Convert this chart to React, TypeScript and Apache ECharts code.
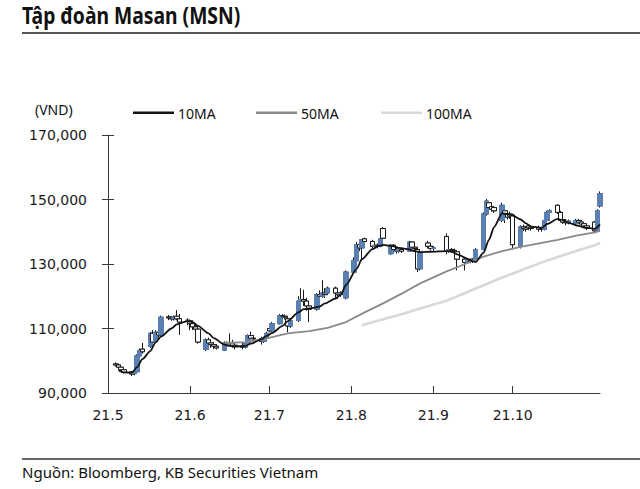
import React, { useEffect, useRef } from 'react';
import * as echarts from 'echarts';

// ---- Data (prices in thousand VND) ----
const TITLE = 'Tập đoàn Masan (MSN)';
const SOURCE = 'Nguồn: Bloomberg, KB Securities Vietnam';
const UNIT = '(VND)';
const Y_MIN = 90;
const Y_MAX = 170;
const Y_STEP = 20;
const LABEL_MONTHS = ['05', '06', '07', '08', '09', '10'];

// [date MM-DD, open, close, low, high]
const CANDLES: [string, number, number, number, number][] = [
  ['05-04', 99.0, 98.7, 98.2, 99.5],
  ['05-05', 98.7, 98.0, 97.6, 99.0],
  ['05-06', 98.0, 97.2, 96.8, 98.3],
  ['05-07', 97.2, 96.4, 96.0, 97.6],
  ['05-10', 96.5, 95.9, 95.3, 96.8],
  ['05-11', 96.0, 96.4, 95.5, 96.9],
  ['05-12', 96.6, 101.5, 96.3, 102.0],
  ['05-13', 101.5, 103.2, 101.0, 103.8],
  ['05-14', 103.6, 102.8, 102.2, 105.5],
  ['05-17', 104.5, 108.5, 104.0, 109.0],
  ['05-18', 108.5, 105.8, 105.3, 109.5],
  ['05-19', 106.0, 108.8, 105.5, 109.5],
  ['05-20', 108.8, 108.0, 107.2, 109.6],
  ['05-21', 108.0, 113.5, 107.6, 114.0],
  ['05-24', 113.6, 113.3, 112.6, 114.2],
  ['05-25', 113.3, 113.0, 112.4, 113.9],
  ['05-26', 113.0, 113.5, 112.5, 114.0],
  ['05-27', 113.8, 113.0, 112.5, 115.7],
  ['05-28', 113.0, 112.0, 108.0, 114.5],
  ['05-31', 112.2, 112.6, 111.0, 113.2],
  ['06-01', 112.4, 111.5, 109.5, 112.8],
  ['06-02', 111.5, 110.5, 109.5, 112.0],
  ['06-03', 110.5, 109.8, 109.0, 111.2],
  ['06-04', 109.8, 105.8, 105.3, 110.2],
  ['06-07', 103.5, 106.5, 103.0, 107.0],
  ['06-08', 106.5, 105.5, 104.8, 107.2],
  ['06-09', 105.5, 105.0, 104.0, 106.2],
  ['06-10', 105.0, 104.5, 103.6, 105.8],
  ['06-11', 104.5, 104.0, 103.5, 105.2],
  ['06-14', 103.3, 105.5, 103.0, 106.0],
  ['06-15', 105.5, 105.0, 104.3, 106.0],
  ['06-16', 105.0, 105.5, 104.5, 108.5],
  ['06-17', 105.5, 104.8, 104.0, 106.5],
  ['06-18', 104.8, 104.5, 103.5, 105.8],
  ['06-21', 104.5, 104.2, 103.5, 105.5],
  ['06-22', 104.2, 105.5, 103.8, 106.0],
  ['06-23', 105.5, 107.8, 105.2, 108.2],
  ['06-24', 107.8, 107.0, 106.5, 109.0],
  ['06-25', 107.0, 106.8, 106.0, 108.0],
  ['06-28', 106.8, 106.0, 105.0, 107.5],
  ['06-29', 106.0, 107.0, 105.5, 107.5],
  ['06-30', 107.0, 108.5, 106.8, 109.0],
  ['07-01', 110.0, 109.3, 108.8, 110.5],
  ['07-02', 109.3, 111.5, 109.0, 112.0],
  ['07-05', 111.5, 114.0, 111.2, 114.5],
  ['07-06', 114.0, 113.8, 113.0, 114.5],
  ['07-07', 113.8, 113.5, 112.8, 114.4],
  ['07-08', 113.0, 110.8, 108.8, 113.5],
  ['07-09', 110.8, 112.5, 110.2, 113.0],
  ['07-12', 112.5, 118.5, 112.0, 120.0],
  ['07-13', 118.5, 119.0, 117.5, 122.5],
  ['07-14', 119.0, 118.5, 117.0, 122.0],
  ['07-15', 118.5, 117.0, 115.5, 119.5],
  ['07-16', 117.0, 116.0, 112.0, 117.5],
  ['07-19', 116.0, 120.5, 115.5, 121.0],
  ['07-20', 120.5, 120.0, 119.2, 121.8],
  ['07-21', 120.0, 121.0, 119.5, 125.0],
  ['07-22', 121.0, 120.5, 119.5, 122.5],
  ['07-23', 121.0, 122.5, 120.5, 123.0],
  ['07-26', 122.5, 121.0, 119.5, 123.0],
  ['07-27', 121.0, 120.5, 119.2, 121.5],
  ['07-28', 120.5, 121.0, 119.8, 121.6],
  ['07-29', 121.0, 120.8, 120.0, 121.8],
  ['07-30', 119.5, 127.5, 119.0, 128.0],
  ['08-02', 127.5, 131.0, 127.0, 132.0],
  ['08-03', 131.0, 136.0, 130.5, 136.8],
  ['08-04', 136.0, 135.0, 134.0, 137.5],
  ['08-05', 135.0, 137.5, 131.0, 137.8],
  ['08-06', 137.8, 137.0, 136.0, 138.2],
  ['08-09', 137.0, 135.5, 134.8, 137.5],
  ['08-10', 135.5, 135.8, 134.9, 136.5],
  ['08-11', 135.8, 135.5, 134.8, 136.4],
  ['08-12', 135.5, 137.8, 135.2, 138.5],
  ['08-13', 141.0, 138.0, 137.5, 141.5],
  ['08-16', 133.2, 135.8, 132.8, 136.2],
  ['08-17', 135.8, 134.5, 134.0, 136.2],
  ['08-18', 134.5, 134.0, 133.2, 135.0],
  ['08-19', 134.0, 134.5, 133.5, 135.2],
  ['08-20', 134.5, 134.0, 133.4, 135.0],
  ['08-23', 134.0, 136.8, 133.8, 137.2],
  ['08-24', 136.8, 135.2, 134.8, 137.0],
  ['08-25', 135.2, 134.8, 134.0, 135.8],
  ['08-26', 134.5, 128.5, 127.5, 135.0],
  ['08-27', 128.5, 133.5, 128.0, 134.0],
  ['08-30', 136.5, 135.5, 134.8, 137.2],
  ['08-31', 135.5, 134.8, 134.2, 136.0],
  ['09-01', 134.8, 135.0, 134.2, 135.6],
  ['09-06', 138.5, 134.0, 133.0, 139.5],
  ['09-07', 134.0, 134.5, 133.5, 135.0],
  ['09-08', 134.5, 134.2, 133.6, 135.0],
  ['09-09', 134.2, 133.8, 133.2, 134.8],
  ['09-10', 133.8, 131.5, 128.0, 134.0],
  ['09-13', 131.5, 130.5, 128.0, 132.0],
  ['09-14', 130.5, 131.2, 130.0, 131.8],
  ['09-15', 131.2, 130.8, 130.2, 131.6],
  ['09-16', 131.5, 131.0, 130.3, 131.8],
  ['09-17', 131.0, 134.5, 130.8, 135.0],
  ['09-20', 134.5, 145.5, 134.2, 146.0],
  ['09-21', 145.5, 149.5, 145.0, 150.2],
  ['09-22', 149.0, 147.5, 146.8, 149.5],
  ['09-23', 147.8, 147.0, 146.2, 148.3],
  ['09-24', 147.5, 146.5, 145.8, 148.0],
  ['09-27', 143.5, 148.2, 143.0, 149.0],
  ['09-28', 146.5, 145.5, 142.7, 147.0],
  ['09-29', 145.5, 144.5, 143.8, 146.0],
  ['09-30', 145.5, 144.8, 144.0, 146.2],
  ['10-01', 145.2, 136.0, 134.5, 145.5],
  ['10-04', 135.5, 141.5, 134.8, 142.0],
  ['10-05', 141.5, 141.0, 140.2, 142.2],
  ['10-06', 141.2, 140.8, 140.0, 141.8],
  ['10-07', 141.8, 141.2, 140.5, 142.3],
  ['10-08', 141.4, 141.0, 140.3, 142.0],
  ['10-11', 141.3, 140.8, 140.0, 141.9],
  ['10-12', 141.0, 140.7, 140.0, 141.6],
  ['10-13', 140.7, 143.5, 140.4, 144.0],
  ['10-14', 143.5, 146.0, 143.0, 146.5],
  ['10-15', 146.0, 146.5, 145.5, 147.0],
  ['10-18', 148.2, 146.0, 145.5, 148.5],
  ['10-19', 146.0, 143.5, 143.0, 146.5],
  ['10-20', 143.8, 143.0, 142.4, 144.4],
  ['10-21', 143.2, 142.8, 142.0, 143.8],
  ['10-22', 142.8, 143.3, 142.3, 143.8],
  ['10-25', 142.5, 143.5, 142.0, 144.0],
  ['10-26', 143.5, 143.0, 142.4, 144.0],
  ['10-27', 143.0, 142.4, 141.8, 143.5],
  ['10-28', 142.5, 141.8, 141.2, 143.0],
  ['10-29', 141.8, 141.2, 140.5, 142.3],
  ['11-01', 143.0, 140.3, 139.5, 143.3],
  ['11-02', 140.5, 146.5, 140.0, 147.0],
  ['11-03', 148.0, 151.8, 147.5, 152.5],
];

const MA10: [string, number][] = [
  ['05-05', 97.0], ['05-07', 96.4], ['05-10', 96.3], ['05-12', 98.0], ['05-14', 100.5],
  ['05-17', 103.0], ['05-19', 105.7], ['05-21', 107.5], ['05-25', 110.0], ['05-27', 111.3],
  ['05-31', 112.3], ['06-02', 112.0], ['06-04', 110.8], ['06-08', 108.5], ['06-10', 107.0],
  ['06-14', 105.0], ['06-16', 104.6], ['06-18', 104.4], ['06-22', 104.6], ['06-24', 105.3],
  ['06-28', 106.6], ['06-30', 107.7], ['07-02', 108.6], ['07-06', 110.8], ['07-08', 112.3],
  ['07-12', 115.0], ['07-14', 116.0], ['07-16', 116.2], ['07-20', 116.8], ['07-22', 117.8],
  ['07-26', 119.3], ['07-28', 120.5], ['07-30', 123.5], ['08-03', 128.5], ['08-05', 131.5],
  ['08-09', 134.6], ['08-11', 135.5], ['08-13', 135.9], ['08-17', 135.5], ['08-19', 135.0],
  ['08-23', 134.5], ['08-25', 134.0], ['08-27', 133.7], ['08-31', 133.8], ['09-06', 134.0],
  ['09-08', 133.8], ['09-10', 133.0], ['09-14', 131.6], ['09-16', 130.8], ['09-17', 130.6],
  ['09-20', 133.5], ['09-22', 137.5], ['09-24', 141.5], ['09-27', 145.8], ['09-29', 145.5],
  ['10-01', 145.0], ['10-04', 143.8], ['10-06', 142.6], ['10-08', 141.6], ['10-12', 141.2],
  ['10-14', 142.4], ['10-18', 144.0], ['10-20', 143.6], ['10-22', 142.8], ['10-26', 141.8],
  ['10-28', 141.3], ['11-01', 140.9], ['11-03', 142.3],
];

const MA50: [string, number][] = [
  ['06-14', 105.5], ['06-22', 105.8], ['06-30', 106.9], ['07-08', 108.5], ['07-16', 109.2],
  ['07-23', 110.2], ['07-30', 112.0], ['08-06', 115.0], ['08-13', 117.8], ['08-20', 120.8],
  ['08-27', 124.0], ['09-06', 127.7], ['09-13', 130.0], ['09-20', 132.3], ['09-27', 134.0],
  ['10-04', 135.3], ['10-11', 136.4], ['10-18', 137.5], ['10-25', 138.8], ['11-01', 139.8],
  ['11-03', 140.3],
];

const MA100: [string, number][] = [
  ['08-05', 111.0], ['08-13', 112.9], ['08-20', 114.4], ['08-27', 116.2], ['09-06', 118.6],
  ['09-13', 121.0], ['09-20', 123.4], ['09-27', 125.8], ['10-04', 128.0], ['10-11', 130.2],
  ['10-18', 132.2], ['10-25', 134.0], ['11-01', 135.8], ['11-03', 136.5],
];

const LEGEND_NAMES = ['10MA', '50MA', '100MA'];
const BLUE = '#5a7fb3';
const MA_COLORS = ['#141414', '#8a8a8a', '#d8d8d8'];

// calendar categories (every day, so spacing follows calendar time)
function buildCalendar(): string[] {
  const out: string[] = [];
  const start = Date.UTC(2021, 4, 1);
  const end = Date.UTC(2021, 10, 3);
  for (let t = start; t <= end; t += 86400000) {
    const d = new Date(t);
    const mm = String(d.getUTCMonth() + 1).padStart(2, '0');
    const dd = String(d.getUTCDate()).padStart(2, '0');
    out.push(`${mm}-${dd}`);
  }
  return out;
}

export default function App() {
  const ref = useRef<HTMLDivElement>(null);

  useEffect(() => {
    if (!ref.current) return;
    const chart = echarts.init(ref.current, undefined, { renderer: 'svg' });
    const cats = buildCalendar();
    const byDate = new Map(CANDLES.map((r) => [r[0], r]));
    const full = cats.map((c) => {
      const r = byDate.get(c);
      return r ? [r[1], r[2], r[3], r[4]] : ['-', '-', '-', '-'];
    });
    const body = cats.map((c) => {
      const r = byDate.get(c);
      return r ? [r[1], r[2], Math.min(r[1], r[2]), Math.max(r[1], r[2])] : ['-', '-', '-', '-'];
    });
    const isMonthStart = (_i: number, v: string) =>
      v.endsWith('-01') && LABEL_MONTHS.includes(v.slice(0, 2));
    const font = 'DejaVu Sans';
    const tf = 'Noto Sans';

    const legendEls: any[] = [];
    const legendX = [133, 256, 381];
    LEGEND_NAMES.forEach((n, i) => {
      legendEls.push({
        type: 'line',
        shape: { x1: legendX[i], y1: 112.7, x2: legendX[i] + 41, y2: 112.7 },
        style: { stroke: MA_COLORS[i], lineWidth: 2.6 },
      });
      legendEls.push({
        type: 'text',
        x: legendX[i] + 45,
        y: 113,
        style: { text: n, fontFamily: tf, fontSize: 14, fill: '#111', verticalAlign: 'middle', align: 'left' },
      });
    });

    const lineBase = { type: 'line', symbol: 'none', silent: true };

    chart.setOption({
      animation: false,
      backgroundColor: '#ffffff',
      grid: { left: 108, right: 40, top: 135, bottom: 96, containLabel: false },
      xAxis: {
        type: 'category',
        data: cats,
        boundaryGap: false,
        axisLine: { lineStyle: { color: '#3a3a3a', width: 1 } },
        axisTick: { show: true, inside: true, length: 7, interval: isMonthStart, lineStyle: { color: '#3a3a3a' } },
        axisLabel: {
          interval: isMonthStart,
          margin: 15,
          fontFamily: font,
          fontSize: 14,
          color: '#1a1a1a',
          formatter: (v: string) => `21.${Number(v.slice(0, 2))}`,
        },
        splitLine: { show: false },
      },
      yAxis: [
        {
          type: 'value',
          min: Y_MIN,
          max: Y_MAX,
          interval: Y_STEP,
          axisLine: { show: true, lineStyle: { color: '#3a3a3a', width: 1 } },
          axisTick: { show: true, length: 6, lineStyle: { color: '#3a3a3a' } },
          axisLabel: {
            margin: 21,
            fontFamily: font,
            fontSize: 14,
            color: '#1a1a1a',
            formatter: (v: number) => (v * 1000).toLocaleString('en-US'),
          },
          splitLine: { show: false },
        },
        {
          type: 'value',
          position: 'left',
          min: Y_MIN,
          max: Y_MAX,
          interval: Y_STEP,
          axisLine: { show: false },
          axisTick: { show: true, inside: true, length: 6, lineStyle: { color: '#3a3a3a' } },
          axisLabel: { show: false },
          splitLine: { show: false },
        },
      ],
      series: [
        {
          name: 'wick',
          type: 'candlestick',
          data: full,
          barWidth: 5,
          silent: true,
          z: 2,
          itemStyle: { color: '#ffffff', color0: '#ffffff', borderColor: '#1a1a1a', borderColor0: '#1a1a1a', borderWidth: 1 },
        },
        {
          name: 'body',
          type: 'candlestick',
          data: body,
          barWidth: 5,
          silent: true,
          z: 3,
          itemStyle: { color: BLUE, color0: '#ffffff', borderColor: BLUE, borderColor0: '#1a1a1a', borderWidth: 1 },
        },
        { ...lineBase, name: LEGEND_NAMES[2], data: MA100, smooth: false, z: 4, lineStyle: { color: MA_COLORS[2], width: 2.6 } },
        { ...lineBase, name: LEGEND_NAMES[1], data: MA50, smooth: false, z: 5, lineStyle: { color: MA_COLORS[1], width: 1.8 } },
        { ...lineBase, name: LEGEND_NAMES[0], data: MA10, smooth: 0.25, smoothMonotone: 'x', z: 6, lineStyle: { color: MA_COLORS[0], width: 1.8 } },
      ],
      graphic: [
        {
          type: 'text',
          x: 22,
          y: 15,
          scaleX: 0.84,
          style: { text: TITLE, fontFamily: tf, fontSize: 23, fontWeight: 'bold', fill: '#111', verticalAlign: 'middle', align: 'left' },
        },
        { type: 'line', shape: { x1: 22, y1: 33, x2: 640, y2: 33 }, style: { stroke: '#555', lineWidth: 2 } },
        {
          type: 'text',
          x: 35,
          y: 109.5,
          style: { text: UNIT, fontFamily: tf, fontSize: 14, fill: '#111', verticalAlign: 'middle', align: 'left' },
        },
        ...legendEls,
        { type: 'line', shape: { x1: 22, y1: 459, x2: 640, y2: 459 }, style: { stroke: '#333', lineWidth: 1.5 } },
        {
          type: 'text',
          x: 22,
          y: 471.5,
          style: { text: SOURCE, fontFamily: tf, fontSize: 15, fill: '#111', verticalAlign: 'middle', align: 'left' },
        },
      ],
    });
    return () => chart.dispose();
  }, []);

  return (
    <div
      ref={ref}
      style={{ position: 'absolute', left: 0, top: 0, width: 640, height: 489, background: '#fff' }}
    />
  );
}
